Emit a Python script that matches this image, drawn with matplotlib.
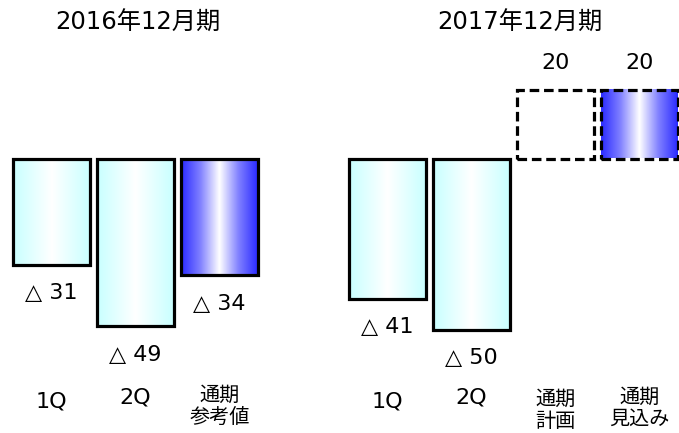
import numpy as np
import matplotlib
matplotlib.use('Agg')
from matplotlib import pyplot as plt
from matplotlib.patches import Rectangle
from matplotlib.colors import LinearSegmentedColormap
import matplotlib.transforms as mtransforms

# wide digits from DejaVu, kanji from Noto CJK
plt.rcParams['font.family'] = ['DejaVu Sans', 'Noto Sans CJK JP']

titles = ['2016年12月期', '2017年12月期']
categories = ['1Q', '2Q', '通期\n参考値', '1Q', '2Q', '通期\n計画', '通期\n見込み']
values = [-31, -49, -34, -41, -50, 20, 20]
fills = ['cyan', 'cyan', 'blue', 'cyan', 'cyan', 'none', 'blue']
dashed = [False, False, False, False, False, True, True]

# layout
positions = [0, 1, 2, 4, 5, 6, 7]
title_px = [138, 520]
label_py = [402, 398, 406, 402, 398, 410, 408]   # pixel centre of category labels
W, H = 679, 433
px_per_unit = 3.42
zero_py = 158.5
pitch = 84.0
x0_px = 51.5

cmaps = {
    'cyan': LinearSegmentedColormap.from_list('c', ['#c8ffff', '#ffffff', '#c8ffff']),
    'blue': LinearSegmentedColormap.from_list('b', ['#2a2aff', '#8080ff', '#ffffff', '#8080ff', '#2a2aff']),
}
grad = np.linspace(0, 1, 256).reshape(1, -1)

fig = plt.figure(figsize=(W / 100, H / 100), dpi=100)
ax = fig.add_axes([0, 0, 1, 1])
ax.set_axis_off()

bw = 77 / pitch
for x, v, f, d in zip(positions, values, fills, dashed):
    lo, hi = min(0, v), max(0, v)
    if f != 'none':
        ax.imshow(grad, extent=(x - bw / 2, x + bw / 2, lo, hi), aspect='auto',
                  cmap=cmaps[f], interpolation='bilinear', zorder=1)
    ax.add_patch(Rectangle((x - bw / 2, lo), bw, hi - lo, fill=False, edgecolor='black',
                           linewidth=2.3, linestyle=(0, (3, 1.5)) if d else '-', zorder=2))
    if v < 0:
        ax.text(x, v - 8.4, f'△ {abs(v)}', ha='center', va='center', fontsize=16)
    else:
        ax.text(x, v + 7.8, f'{v}', ha='center', va='center', fontsize=16)

trans = mtransforms.blended_transform_factory(ax.transData, ax.transAxes)
for x, lab, py in zip(positions, categories, label_py):
    if '\n' in lab:
        ax.text(x, 1 - py / H, lab, transform=trans, ha='center', va='center',
                fontsize=14.5, linespacing=1.08, family='Noto Sans CJK JP')
    else:
        ax.text(x, 1 - py / H, lab, transform=trans, ha='center', va='center', fontsize=16)

for px, t in zip(title_px, titles):
    ax.text((px - x0_px) / pitch, 1 - 23 / H, t, transform=trans, ha='center', va='center',
            fontsize=17.5)

ax.set_xlim(-x0_px / pitch, (W - x0_px) / pitch)
ax.set_ylim(-(H - zero_py) / px_per_unit, zero_py / px_per_unit)

fig.savefig('out.png', dpi=100, facecolor='white')
